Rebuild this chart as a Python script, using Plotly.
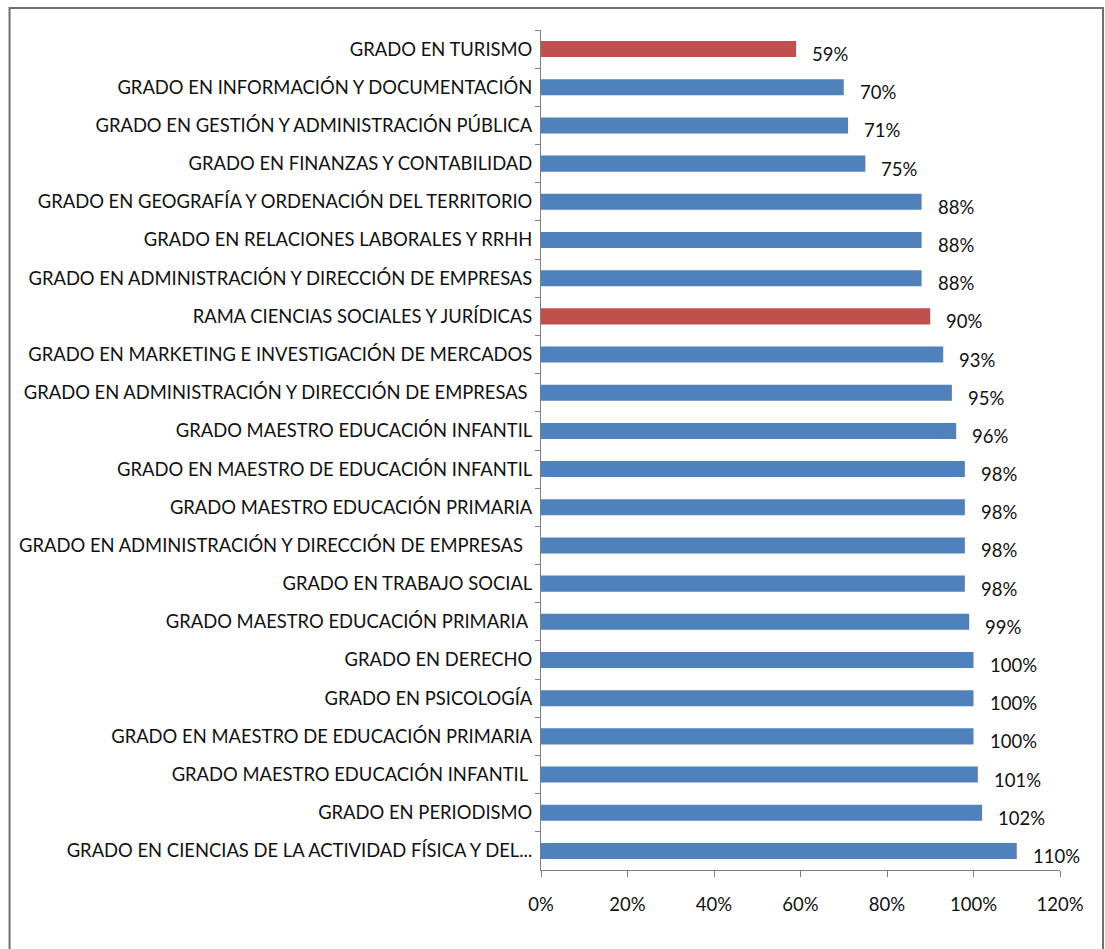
import plotly.graph_objects as go

categories = [
    "GRADO EN TURISMO",
    "GRADO EN INFORMACIÓN Y DOCUMENTACIÓN",
    "GRADO EN GESTIÓN Y ADMINISTRACIÓN PÚBLICA",
    "GRADO EN FINANZAS Y CONTABILIDAD",
    "GRADO EN GEOGRAFÍA Y ORDENACIÓN DEL TERRITORIO",
    "GRADO EN RELACIONES LABORALES Y RRHH",
    "GRADO EN ADMINISTRACIÓN Y DIRECCIÓN DE EMPRESAS",
    "RAMA CIENCIAS SOCIALES Y JURÍDICAS",
    "GRADO EN MARKETING E INVESTIGACIÓN DE MERCADOS",
    "GRADO EN ADMINISTRACIÓN Y DIRECCIÓN DE EMPRESAS ",
    "GRADO MAESTRO EDUCACIÓN INFANTIL",
    "GRADO EN MAESTRO DE EDUCACIÓN INFANTIL",
    "GRADO MAESTRO EDUCACIÓN PRIMARIA",
    "GRADO EN ADMINISTRACIÓN Y DIRECCIÓN DE EMPRESAS  ",
    "GRADO EN TRABAJO SOCIAL",
    "GRADO MAESTRO EDUCACIÓN PRIMARIA ",
    "GRADO EN DERECHO",
    "GRADO EN PSICOLOGÍA",
    "GRADO EN MAESTRO DE EDUCACIÓN PRIMARIA",
    "GRADO MAESTRO EDUCACIÓN INFANTIL ",
    "GRADO EN PERIODISMO",
    "GRADO EN CIENCIAS DE LA ACTIVIDAD FÍSICA Y DEL...",
]
values = [0.59, 0.70, 0.71, 0.75, 0.88, 0.88, 0.88, 0.90, 0.93, 0.95, 0.96,
          0.98, 0.98, 0.98, 0.98, 0.99, 1.00, 1.00, 1.00, 1.01, 1.02, 1.10]
highlight = ["GRADO EN TURISMO", "RAMA CIENCIAS SOCIALES Y JURÍDICAS"]
x_ticks = [0, 0.2, 0.4, 0.6, 0.8, 1.0, 1.2]
x_tick_labels = ["0%", "20%", "40%", "60%", "80%", "100%", "120%"]

BLUE = "#4F81BD"
RED = "#C0504D"
colors = [RED if c in highlight else BLUE for c in categories]
FONT = "Lato, 'Open Sans', sans-serif"

fig = go.Figure()
fig.add_trace(go.Bar(
    y=categories, x=values, orientation="h",
    marker=dict(color=colors, line=dict(width=0)),
    width=0.42,
    hoverinfo="skip",
))

for c, v in zip(categories, values):
    fig.add_annotation(
        x=v, y=c, text=f"{round(v*100)}%", showarrow=False,
        xanchor="left", yanchor="middle", xshift=14, yshift=-5,
        font=dict(family=FONT, size=18.5, color="#111111"),
    )

fig.add_shape(
    type="rect", xref="paper", yref="paper",
    x0=-1.024, x1=1.0829, y0=-0.12, y1=1.0262,
    line=dict(color="#6e6e6e", width=2), layer="below",
)

fig.update_layout(
    width=1105, height=949,
    margin=dict(l=541, r=45, t=30, b=79, autoexpand=False),
    paper_bgcolor="white", plot_bgcolor="white",
    showlegend=False,
    font=dict(family=FONT, size=18.4, color="#111111"),
    xaxis=dict(
        range=[0, 1.2], tickvals=x_ticks, ticktext=x_tick_labels,
        showgrid=False, zeroline=False,
        showline=True, linecolor="#7f7f7f", linewidth=1,
        ticks="outside", ticklen=6, tickcolor="#7f7f7f",
        tickfont=dict(family=FONT, size=18.5), ticklabelstandoff=12,
    ),
    yaxis=dict(
        autorange="reversed", type="category",
        showgrid=False, zeroline=False,
        showline=True, linecolor="#7f7f7f", linewidth=1,
        ticks="outside", ticklen=5, tickcolor="#7f7f7f",
        tickson="boundaries",
        tickfont=dict(family=FONT, size=18.4), ticklabelstandoff=4,
    ),
)

fig.write_html(
    "out.html",
    config={"displayModeBar": False},
    post_script="document.body.style.margin='0';document.body.style.overflow='hidden';",
)
